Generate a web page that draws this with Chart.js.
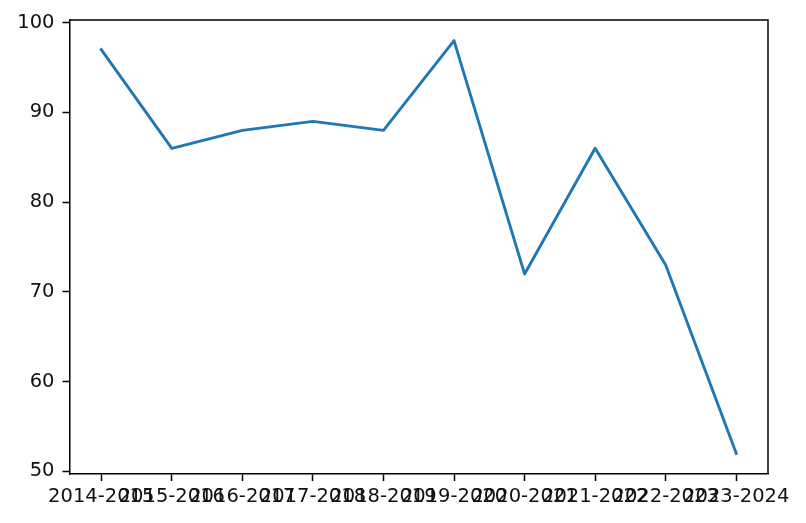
<!DOCTYPE html>
<html>
<head>
<meta charset="utf-8">
<script src="https://cdn.jsdelivr.net/npm/chart.js@4/dist/chart.umd.min.js"></script>
<style>
  html, body { margin: 0; padding: 0; background: #fff; }
  #chart { display: block; }
</style>
</head>
<body>
<canvas id="chart" width="806" height="523"></canvas>
<script>
// Data
const years = ['2014-2015', '2015-2016', '2016-2017', '2017-2018', '2018-2019',
               '2019-2020', '2020-2021', '2021-2022', '2022-2023', '2023-2024'];
const values = [97, 86, 88, 89, 88, 98, 72, 86, 73, 52];
const yTicks = [50, 60, 70, 80, 90, 100];

// matplotlib-like 5% margins around the data
const xPad = (years.length - 1) * 0.05;
const yMin = Math.min(...values), yMax = Math.max(...values);
const yPad = (yMax - yMin) * 0.05;

// draws the top and right spines so the plot looks boxed in
const frame = {
    id: 'frame',
    afterDraw(chart) {
        const { ctx, chartArea: a } = chart;
        ctx.save();
        ctx.strokeStyle = '#000';
        ctx.lineWidth = 1.5;
        ctx.beginPath();
        ctx.moveTo(a.left, a.top);
        ctx.lineTo(a.right, a.top);
        ctx.lineTo(a.right, a.bottom);
        ctx.stroke();
        ctx.restore();
    }
};

const tickFont = { family: 'DejaVu Sans', size: 19.5 };

new Chart(document.getElementById('chart').getContext('2d'), {
    type: 'line',
    data: {
        datasets: [{
            data: values.map((v, i) => ({ x: i, y: v })),
            borderColor: '#1f77b4',
            borderWidth: 2.9,
            borderJoinStyle: 'round',
            borderCapStyle: 'square',
            pointRadius: 0,
            tension: 0,
            fill: false
        }]
    },
    options: {
        responsive: false,
        animation: false,
        layout: { padding: { top: 20, right: 38, left: 0, bottom: 0 } },
        plugins: { legend: { display: false }, tooltip: { enabled: false } },
        scales: {
            x: {
                type: 'linear',
                min: -xPad,
                max: years.length - 1 + xPad,
                afterBuildTicks: s => { s.ticks = years.map((_, i) => ({ value: i })); },
                afterFit: s => { s.height = 49; },
                grid: {
                    drawOnChartArea: false,
                    tickLength: 7,
                    tickWidth: 1.5,
                    tickColor: '#000'
                },
                border: { color: '#000', width: 1.5 },
                ticks: {
                    autoSkip: false,
                    maxRotation: 0,
                    padding: 4,
                    color: '#111',
                    font: tickFont,
                    callback: v => years[v]
                }
            },
            y: {
                min: yMin - yPad,
                max: yMax + yPad,
                afterBuildTicks: s => { s.ticks = yTicks.map(v => ({ value: v })); },
                afterFit: s => { s.width = 69.5; },
                grid: {
                    drawOnChartArea: false,
                    tickLength: 7,
                    tickWidth: 1.5,
                    tickColor: '#000'
                },
                border: { color: '#000', width: 1.5 },
                ticks: {
                    padding: 8,
                    color: '#111',
                    font: tickFont
                }
            }
        }
    },
    plugins: [frame]
});
</script>
</body>
</html>
